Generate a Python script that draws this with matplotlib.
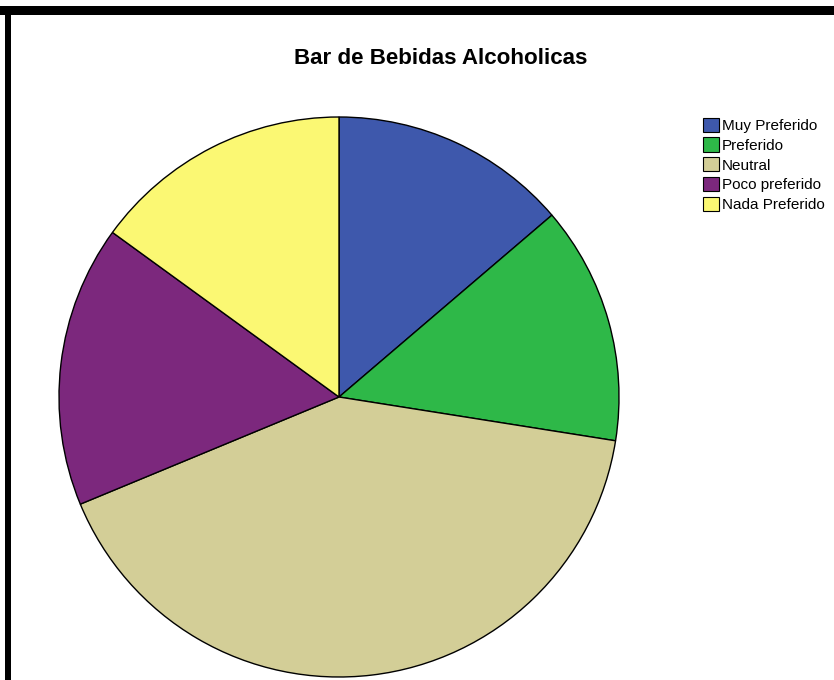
import matplotlib.pyplot as plt
from matplotlib.patches import Rectangle, Patch

plt.rcParams['font.family'] = ['Liberation Sans', 'DejaVu Sans']

# data
labels = ["Muy Preferido", "Preferido", "Neutral", "Poco preferido", "Nada Preferido"]
counts = [11, 11, 33, 13, 12]
colors = ["#3E58AC", "#2EB848", "#D3CE97", "#7C287D", "#FBF873"]

W, H = 834, 680
fig = plt.figure(figsize=(W / 100, H / 100), dpi=100)

# pie axes: center (339, 397) px, radius 280 px
cx, cy, r = 339, 397, 280
ax = fig.add_axes([(cx - r) / W, (H - cy - r) / H, 2 * r / W, 2 * r / H])
ax.pie(counts, colors=colors, startangle=90, counterclock=False,
       wedgeprops=dict(edgecolor="black", linewidth=1))
ax.set_xlim(-1, 1)
ax.set_ylim(-1, 1)
ax.set_aspect("equal")
ax.axis("off")

fig.text(441 / W, 1 - 59 / H, "Bar de Bebidas Alcoholicas", ha="center", va="center",
         fontsize=16.1, fontweight="bold")

handles = [Patch(facecolor=c, edgecolor="black", linewidth=0.8) for c in colors]
fig.legend(handles, labels, loc="upper left", bbox_to_anchor=(701 / W, 1 - 116 / H),
           frameon=False, fontsize=11, handlelength=1.05, handleheight=1.05,
           handletextpad=0.2, labelspacing=0.3, borderpad=0.1, borderaxespad=0)

# black frame (top and left)
fig.patches.append(Rectangle((0, 1 - 15 / H), 1, 9 / H, transform=fig.transFigure,
                             facecolor="black", edgecolor="none"))
fig.patches.append(Rectangle((5 / W, 0), 6 / W, 1 - 6 / H, transform=fig.transFigure,
                             facecolor="black", edgecolor="none"))

fig.savefig("out.png", dpi=100)
